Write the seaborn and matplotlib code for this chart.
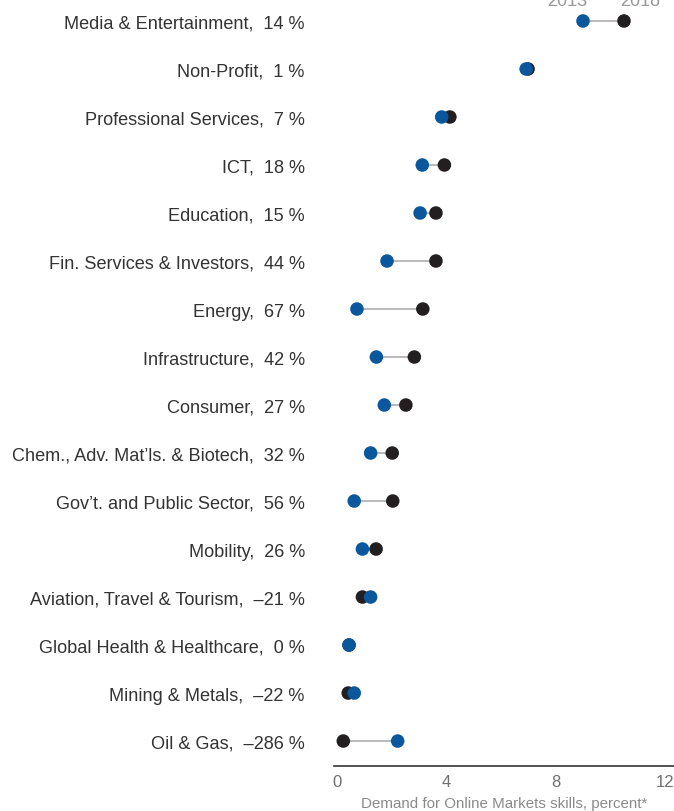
import matplotlib
matplotlib.use("Agg")
import matplotlib.pyplot as plt
import seaborn as sns
import pandas as pd

categories = [
    "Media & Entertainment", "Non-Profit", "Professional Services", "ICT",
    "Education", "Fin. Services & Investors", "Energy", "Infrastructure",
    "Consumer", "Chem., Adv. Mat\u2019ls. & Biotech", "Gov\u2019t. and Public Sector",
    "Mobility", "Aviation, Travel & Tourism", "Global Health & Healthcare",
    "Mining & Metals", "Oil & Gas",
]
change_pct = ["14", "1", "7", "18", "15", "44", "67", "42", "27", "32", "56",
              "26", "\u201321", "0", "\u201322", "\u2013286"]
values_2013 = [9.00, 6.92, 3.83, 3.12, 3.04, 1.83, 0.73, 1.44, 1.73, 1.23,
               0.63, 0.93, 1.23, 0.44, 0.63, 2.22]
values_2018 = [10.50, 6.99, 4.13, 3.93, 3.62, 3.62, 3.14, 2.83, 2.52, 2.02,
               2.04, 1.43, 0.93, 0.44, 0.41, 0.23]
x_ticks = [0, 4, 8, 12]
x_label = "Demand for Online Markets skills, percent*"
years = ["2013", "2018"]

labels = [f"{c},  {p} %" for c, p in zip(categories, change_pct)]

# long form: 2018 first so 2013 (blue) is drawn on top
df = pd.concat([
    pd.DataFrame({"label": labels, "value": values_2018, "year": years[1]}),
    pd.DataFrame({"label": labels, "value": values_2013, "year": years[0]}),
], ignore_index=True)

sns.set_theme(style="white")
plt.rcParams["font.family"] = ["Liberation Sans", "DejaVu Sans"]

BLUE = "#0a579e"
BLACK = "#231f20"

fig = plt.figure(figsize=(6.74, 8.12), dpi=100)
ax = fig.add_axes([334 / 674, (812 - 767) / 812, 340 / 674, 767 / 812])

lo = [min(a, b) for a, b in zip(values_2013, values_2018)]
hi = [max(a, b) for a, b in zip(values_2013, values_2018)]

sns.scatterplot(data=df, x="value", y="label", hue="year",
                palette={years[0]: BLUE, years[1]: BLACK},
                s=95, linewidth=0, legend=False, ax=ax, zorder=3)
ax.hlines(labels, lo, hi, color="#b3b3b3", linewidth=1.3, zorder=2)

ax.set_xlim(-0.11, 12.33)
ax.set_ylim(len(labels) - 1 + 0.52, -0.458)
ax.set_xticks(x_ticks)
ax.set_xticklabels([str(t) for t in x_ticks])
ax.set_xlabel(x_label, color="#8a8a8a", fontsize=10.9, labelpad=5)
ax.set_ylabel("")

for side in ["top", "right", "left"]:
    ax.spines[side].set_visible(False)
ax.spines["bottom"].set_color("#333333")
ax.spines["bottom"].set_linewidth(1.2)

ax.tick_params(axis="y", length=0, pad=21, labelsize=13.1, labelcolor="#333333")
ax.tick_params(axis="x", length=0, pad=6, labelsize=12, labelcolor="#707070")

# year annotations above the first row
ax.annotate(years[0], xy=(values_2013[0], labels[0]), xytext=(-11.5, 11.5),
            textcoords="offset points", ha="center", va="baseline",
            fontsize=13, color="#999999", annotation_clip=False)
ax.annotate(years[1], xy=(values_2018[0], labels[0]), xytext=(11.5, 11.5),
            textcoords="offset points", ha="center", va="baseline",
            fontsize=13, color="#999999", annotation_clip=False)

fig.savefig("out.png", dpi=100)
